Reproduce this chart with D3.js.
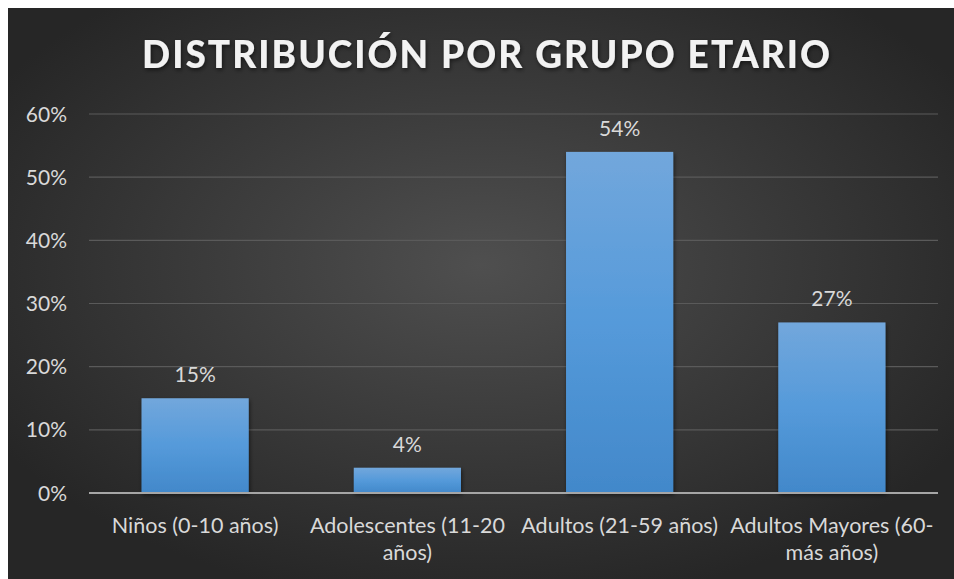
<!DOCTYPE html>
<html>
<head>
<meta charset="utf-8">
<script src="https://cdn.jsdelivr.net/npm/d3@7"></script>
<style>
  html, body { margin: 0; padding: 0; background: #fff; }
  svg { display: block; }
  text { font-family: Lato, "Open Sans", sans-serif; }
</style>
</head>
<body>
<div id="chart"></div>
<script>
// chart data
const categories = [
  "Niños (0-10 años)",
  "Adolescentes (11-20\naños)",
  "Adultos (21-59 años)",
  "Adultos Mayores (60-\nmás años)"
];
const values = [0.15, 0.04, 0.54, 0.27];
const yTicks = [0, 0.1, 0.2, 0.3, 0.4, 0.5, 0.6];
const title = "DISTRIBUCIÓN POR GRUPO ETARIO";

const width = 954, height = 579;
const margin = { top: 114, right: 16, bottom: 86, left: 89 };

const svg = d3.select( "#chart" )
  .append( "svg" )
  .attr( "width", width )
  .attr( "height", height );

const defs = svg.append( "defs" );

const bg = defs.append( "radialGradient" )
  .attr( "id", "bg" )
  .attr( "cx", "50%" ).attr( "cy", "45%" ).attr( "r", "60%" );
bg.append( "stop" ).attr( "offset", "0%" ).attr( "stop-color", "#4f4f4f" );
bg.append( "stop" ).attr( "offset", "100%" ).attr( "stop-color", "#262626" );

const barGrad = defs.append( "linearGradient" )
  .attr( "id", "bar" )
  .attr( "x1", 0 ).attr( "y1", 0 ).attr( "x2", 0 ).attr( "y2", 1 );
barGrad.append( "stop" ).attr( "offset", "0%" ).attr( "stop-color", "#72a7dc" );
barGrad.append( "stop" ).attr( "offset", "50%" ).attr( "stop-color", "#559ada" );
barGrad.append( "stop" ).attr( "offset", "100%" ).attr( "stop-color", "#4288ca" );

const shadow = defs.append( "filter" ).attr( "id", "shadow" )
  .attr( "x", "-10%" ).attr( "y", "-10%" ).attr( "width", "130%" ).attr( "height", "130%" );
shadow.append( "feDropShadow" )
  .attr( "dx", 1 ).attr( "dy", 2 ).attr( "stdDeviation", 2 )
  .attr( "flood-color", "#000" ).attr( "flood-opacity", 0.55 );

// background panel
svg.append( "rect" )
  .attr( "x", 8 ).attr( "y", 8 )
  .attr( "width", width - 8 ).attr( "height", height - 8 )
  .attr( "fill", "url(#bg)" );

// title
svg.append( "text" )
  .attr( "x", 486 ).attr( "y", 68 )
  .attr( "text-anchor", "middle" )
  .attr( "fill", "#f2f2f2" )
  .attr( "font-size", 37 )
  .attr( "font-weight", "900" )
  .attr( "textLength", 688 )
  .attr( "lengthAdjust", "spacing" )
  .attr( "filter", "url(#shadow)" )
  .text( title );

const x = d3.scaleBand()
  .domain( categories )
  .range( [ margin.left, width - margin.right ] )
  .paddingInner( 0.495 )
  .paddingOuter( 0.2475 );

const y = d3.scaleLinear()
  .domain( [ 0, 0.6 ] )
  .range( [ height - margin.bottom, margin.top ] );

// gridlines
svg.append( "g" )
  .selectAll( "line" )
  .data( yTicks.filter( d => d > 0 ) )
  .enter()
  .append( "line" )
  .attr( "x1", margin.left )
  .attr( "x2", width - margin.right )
  .attr( "y1", d => y( d ) )
  .attr( "y2", d => y( d ) )
  .attr( "stroke", "#5a5a5a" )
  .attr( "stroke-width", 1.2 );

// y tick labels
svg.append( "g" )
  .selectAll( "text" )
  .data( yTicks )
  .enter()
  .append( "text" )
  .attr( "x", 67 )
  .attr( "y", d => y( d ) )
  .attr( "dy", "0.36em" )
  .attr( "text-anchor", "end" )
  .attr( "fill", "#d9d9d9" )
  .attr( "font-size", 21 )
  .text( d => d3.format( ".0%" )( d ) );

// bars
svg.append( "g" )
  .selectAll( "rect" )
  .data( values )
  .enter()
  .append( "rect" )
  .attr( "x", ( d, i ) => x( categories[ i ] ) )
  .attr( "y", d => y( d ) )
  .attr( "width", x.bandwidth() )
  .attr( "height", d => y( 0 ) - y( d ) )
  .attr( "fill", "url(#bar)" )
  .attr( "filter", "url(#shadow)" );

// axis line
svg.append( "line" )
  .attr( "x1", margin.left )
  .attr( "x2", width - margin.right )
  .attr( "y1", y( 0 ) )
  .attr( "y2", y( 0 ) )
  .attr( "stroke", "#a6a6a6" )
  .attr( "stroke-width", 2 );

// data labels
svg.append( "g" )
  .selectAll( "text" )
  .data( values )
  .enter()
  .append( "text" )
  .attr( "x", ( d, i ) => x( categories[ i ] ) + x.bandwidth() / 2 )
  .attr( "y", d => y( d ) - 16 )
  .attr( "text-anchor", "middle" )
  .attr( "fill", "#d9d9d9" )
  .attr( "font-size", 21 )
  .text( d => d3.format( ".0%" )( d ) );

// category labels
const cat = svg.append( "g" )
  .selectAll( "text" )
  .data( categories )
  .enter()
  .append( "text" )
  .attr( "x", d => x( d ) + x.bandwidth() / 2 )
  .attr( "y", 533 )
  .attr( "text-anchor", "middle" )
  .attr( "fill", "#d9d9d9" )
  .attr( "font-size", 21.5 );

cat.selectAll( "tspan" )
  .data( d => d.split( "\n" ) )
  .enter()
  .append( "tspan" )
  .attr( "x", function() { return d3.select( this.parentNode ).attr( "x" ); } )
  .attr( "dy", ( d, i ) => i === 0 ? 0 : 27 )
  .text( d => d );
</script>
</body>
</html>
